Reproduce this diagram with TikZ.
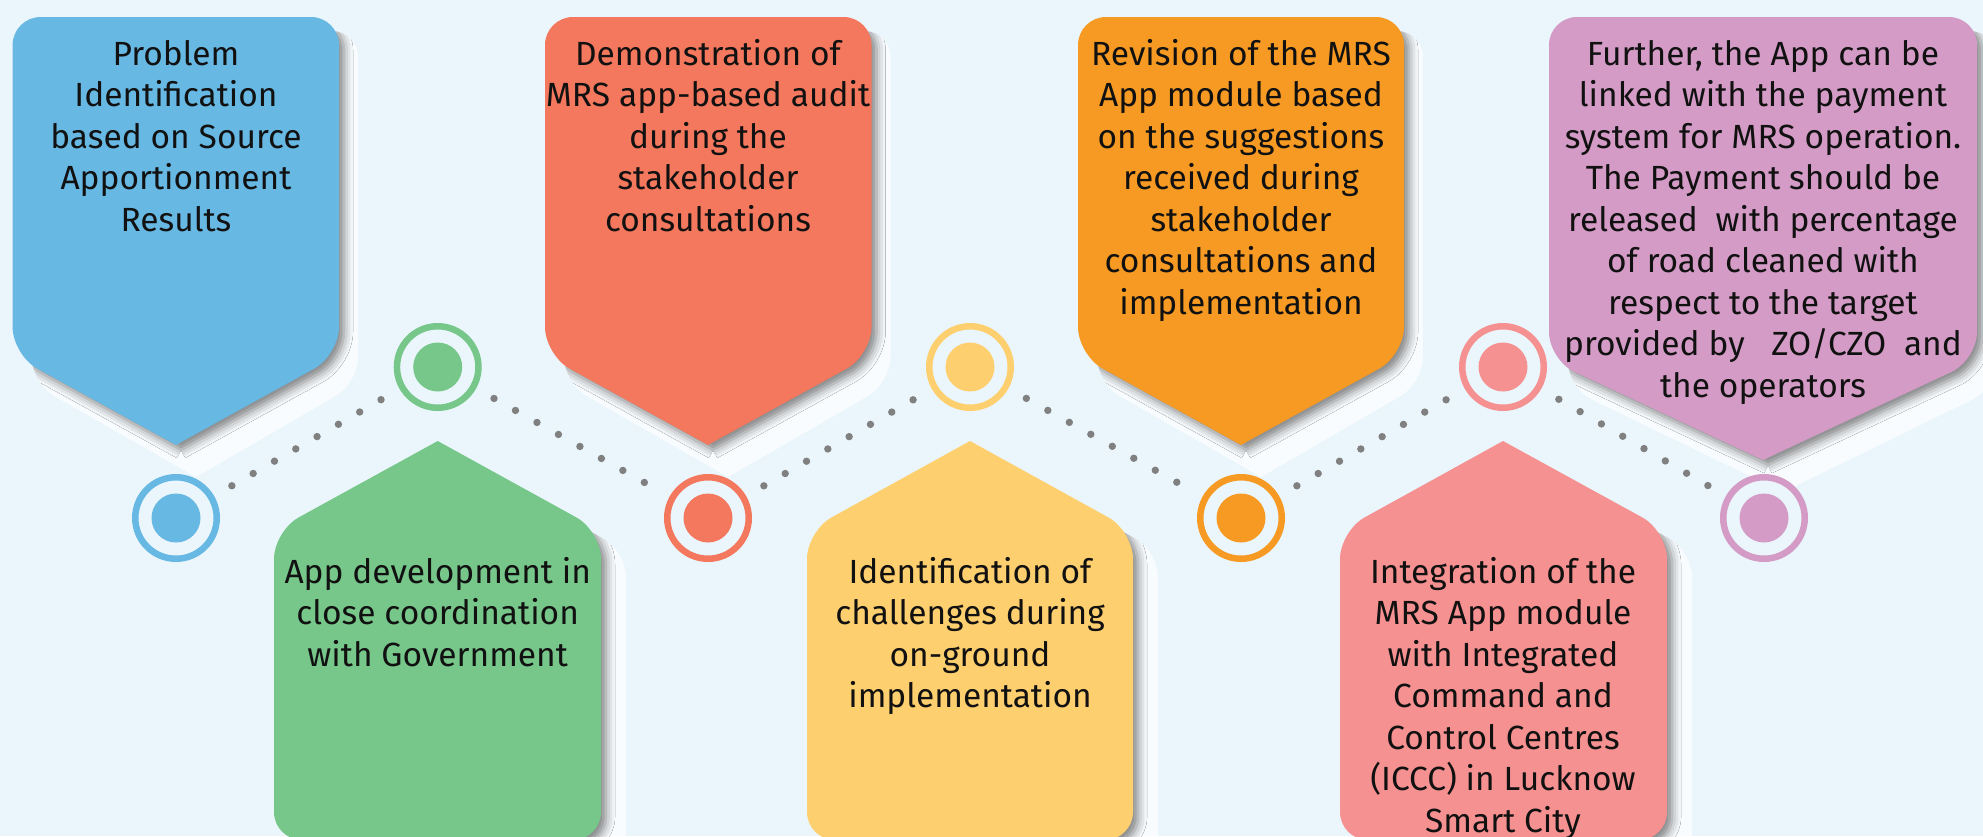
\documentclass[tikz,border=0pt]{standalone}
\usepackage{fontspec}
\setmainfont{Fira Sans}
\usetikzlibrary{shadows.blur}

\definecolor{bg}{HTML}{EAF6FC}
\definecolor{cblue}{HTML}{67B8E3}
\definecolor{cgreen}{HTML}{77C68A}
\definecolor{ccoral}{HTML}{F3785D}
\definecolor{cyellow}{HTML}{FECF6E}
\definecolor{corange}{HTML}{F69A23}
\definecolor{cpink}{HTML}{F59190}
\definecolor{cpurple}{HTML}{D39BC5}
\definecolor{dotgray}{HTML}{808080}
\definecolor{ink}{HTML}{111111}

\tikzset{
  plate/.style={fill=white, fill opacity=0.75},
  edgeshadow/.style={blur shadow={shadow xshift=5pt, shadow yshift=-5pt,
      shadow blur radius=9pt, shadow opacity=50}},
  boxtext/.style={inner sep=0pt, align=center, anchor=north, text=ink,
      font=\fontsize{33.5}{41.5}\selectfont},
  ring/.style={circle, draw=#1, fill=bg, line width=6.5pt, minimum size=81.5pt,
      inner sep=0pt, outer sep=3.25pt,
      path picture={\fill[#1] (path picture bounding box.center) circle (24.5pt);}},
  dotline/.style={draw=dotgray, line width=7.4pt, line cap=round,
      dash pattern=on 0pt off 24.6pt, shorten <=20.5pt, shorten >=20.5pt}
}

% strut that fixes the height of a first text line
\newcommand\firstline{\rule{0pt}{30pt}}

% card hanging from the top edge, tip pointing down
% #1 colour, #2 left, #3 right, #4 tip x, #5 shoulder y, #6 tip y
\newcommand\downcard[6]{%
  \fill[plate] (#4+20,#6+32) [rounded corners=26pt] -- (#2+19,#5+28) -- (#2+19,31)
      -- (#3+19,31) -- (#3+19,#5+28) -- (#4+20,#6+32);
  \begin{scope}
    \clip (#4+20,#6+32) [rounded corners=26pt] -- (#2+19,#5+28) -- (#2+19,31)
        -- (#3+19,31) -- (#3+19,#5+28) -- (#4+20,#6+32);
    \path[edgeshadow] (#4,#6) [rounded corners=28pt] -- (#2,#5) -- (#2,17)
        -- (#3,17) -- (#3,#5) -- (#4,#6);
  \end{scope}
  \fill[#1] (#4,#6) [rounded corners=28pt] -- (#2,#5) -- (#2,17)
      -- (#3,17) -- (#3,#5) -- (#4,#6);
}

% card standing on the bottom edge, tip pointing up
% #1 colour, #2 left, #3 right, #4 tip x, #5 shoulder y, #6 tip y
\newcommand\upcard[6]{%
  \fill[plate] (#4+25,#6+20) [rounded corners=26pt] -- (#3+25,#5+20) -- (#3+25,860)
      -- (#2+25,860) -- (#2+25,#5+20) -- (#4+25,#6+20);
  \begin{scope}
    \clip (#4+25,#6+20) [rounded corners=26pt] -- (#3+25,#5+20) -- (#3+25,860)
        -- (#2+25,860) -- (#2+25,#5+20) -- (#4+25,#6+20);
    \path[edgeshadow] (#4,#6) [rounded corners=28pt] -- (#3,#5) -- (#3,840)
        -- (#2,840) -- (#2,#5) -- (#4,#6);
  \end{scope}
  \fill[#1] (#4,#6) [rounded corners=28pt] -- (#3,#5) -- (#3,840)
      -- (#2,840) -- (#2,#5) -- (#4,#6);
}

\begin{document}
\begin{tikzpicture}[x=1pt, y=-1pt]
  \useasboundingbox (0,0) rectangle (1983,836);
  \fill[bg] (0,0) rectangle (1983,836);

  % cards hanging from the top
  \downcard{cblue}{12.6}{339}{176}{355}{445}
  \downcard{ccoral}{545}{871.5}{708}{355}{445}
  \downcard{corange}{1078}{1404}{1241}{355}{445}
  \downcard{cpurple}{1549}{1977}{1763}{360}{460}

  % cards standing at the bottom
  \upcard{cgreen}{274}{601}{437.7}{531}{441}
  \upcard{cyellow}{807}{1133}{970}{531}{441}
  \upcard{cpink}{1340}{1667}{1503}{531}{441}

  % milestone rings
  \node[ring=cblue]   (m1) at (176,518)    {};
  \node[ring=cgreen]  (m2) at (437.7,367)  {};
  \node[ring=ccoral]  (m3) at (708,518)    {};
  \node[ring=cyellow] (m4) at (970,367)    {};
  \node[ring=corange] (m5) at (1241,518)   {};
  \node[ring=cpink]   (m6) at (1503,367)   {};
  \node[ring=cpurple] (m7) at (1764,518)   {};

  % dotted zig-zag between the rings
  \draw[dotline] (m1) -- (m2);
  \draw[dotline] (m2) -- (m3);
  \draw[dotline] (m3) -- (m4);
  \draw[dotline] (m4) -- (m5);
  \draw[dotline] (m5) -- (m6);
  \draw[dotline] (m6) -- (m7);

  % card texts
  \node[boxtext] (t1) at (176,35) {\firstline Problem\\Identification\\based on Source\\Apportionment\\Results};
  \node[boxtext] (t2) at (437.7,553) {\firstline App development in\\close coordination\\with Government};
  \node[boxtext] (t3) at (708,35) {\firstline Demonstration of\\MRS app-based audit\\during the\\stakeholder\\consultations};
  \node[boxtext] (t4) at (970,553) {\firstline Identification of\\challenges during\\on-ground\\implementation};
  \node[boxtext] (t5) at (1241,35) {\firstline Revision of the MRS\\App module based\\on the suggestions\\received during\\stakeholder\\consultations and\\implementation};
  \node[boxtext] (t6) at (1503,553) {\firstline Integration of the\\MRS App module\\with Integrated\\Command and\\Control Centres\\(ICCC) in Lucknow\\Smart City};
  \node[boxtext] (t7) at (1763,35) {\firstline Further, the App can be\\linked with the payment\\system for MRS operation.\\The Payment should be\\released\ \ with percentage\\of road cleaned with\\respect to the target\\provided by\ \ \ ZO/CZO\ \ and\\the operators};
\end{tikzpicture}
\end{document}
